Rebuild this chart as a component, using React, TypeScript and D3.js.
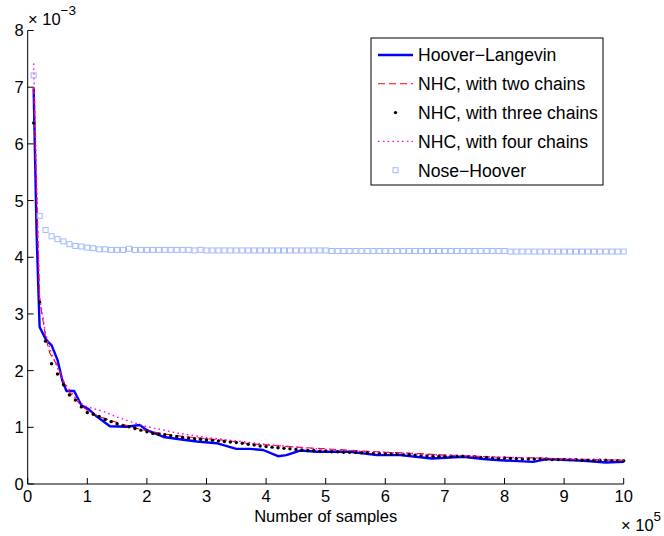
import React from 'react';
import * as d3 from 'd3';

// ---- data (y values in units of 1e-3, x in units of 1e5 samples) ----
const xTicks = [0, 1, 2, 3, 4, 5, 6, 7, 8, 9, 10];
const yTicks = [0, 1, 2, 3, 4, 5, 6, 7, 8];

// sampling grid used by the marker series: every 1e4 samples
const markerX = d3.range(1, 101).map(i => i / 10);

const hooverLangevinX = [0.1, 0.15, 0.18, 0.2, 0.3, 0.35, 0.4, 0.5, 0.58, 0.65, 0.78, 0.9, 1.02, 1.16, 1.38, 1.66, 1.88, 2.0, 2.28, 2.55, 2.84, 3.17, 3.5, 3.73, 3.95, 4.2, 4.34, 4.57, 4.85, 5.41, 5.86, 6.25, 6.78, 7.31, 7.64, 7.93, 8.48, 8.71, 9.33, 9.7, 10.0];
const hooverLangevinY = [6.98, 4.4, 3.4, 2.77, 2.56, 2.5, 2.45, 2.19, 1.83, 1.64, 1.64, 1.39, 1.32, 1.19, 1.02, 1.01, 1.04, 0.95, 0.83, 0.79, 0.75, 0.72, 0.62, 0.62, 0.6, 0.49, 0.51, 0.59, 0.57, 0.57, 0.51, 0.51, 0.45, 0.48, 0.44, 0.42, 0.39, 0.44, 0.41, 0.38, 0.39];

const twoChainsX = [0.1, 0.2, 0.3, 0.37, 0.51, 0.6, 0.7, 0.8, 0.9, 1.0, 1.2, 1.4, 1.6, 1.8, 2.0, 2.3, 2.6, 3.0, 3.4, 3.73, 4.0, 4.5, 5.0, 5.5, 6.0, 6.5, 7.0, 7.5, 8.0, 8.5, 9.0, 9.5, 10.0];
const twoChainsY = [7.0, 3.25, 2.6, 2.31, 2.07, 1.8, 1.62, 1.5, 1.38, 1.3, 1.19, 1.12, 1.05, 0.99, 0.94, 0.88, 0.84, 0.8, 0.76, 0.71, 0.69, 0.65, 0.62, 0.59, 0.56, 0.54, 0.51, 0.49, 0.47, 0.46, 0.44, 0.43, 0.42];

const threeChainsY = [
  6.37, 3.21, 2.52, 2.12, 1.94, 1.75, 1.57, 1.48, 1.36, 1.26,
  1.23, 1.19, 1.14, 1.1, 1.06, 1.03, 1.01, 0.98, 0.95, 0.92,
  0.89, 0.88, 0.87, 0.85, 0.84, 0.82, 0.81, 0.8, 0.79, 0.78,
  0.77, 0.76, 0.75, 0.74, 0.73, 0.72, 0.7, 0.69, 0.67, 0.66,
  0.65, 0.64, 0.63, 0.62, 0.61, 0.6, 0.59, 0.59, 0.58, 0.58,
  0.57, 0.57, 0.56, 0.56, 0.56, 0.55, 0.55, 0.54, 0.54, 0.53,
  0.53, 0.53, 0.52, 0.52, 0.51, 0.5, 0.5, 0.49, 0.49, 0.49,
  0.49, 0.49, 0.49, 0.48, 0.48, 0.47, 0.47, 0.46, 0.45, 0.46,
  0.45, 0.45, 0.44, 0.44, 0.44, 0.44, 0.44, 0.43, 0.43, 0.43,
  0.43, 0.43, 0.42, 0.42, 0.42, 0.42, 0.42, 0.41, 0.41, 0.41,
];

const fourChainsX = [0.1, 0.2, 0.3, 0.4, 0.5, 0.6, 0.7, 0.8, 0.9, 1.0, 1.27, 1.5, 1.73, 2.0, 2.29, 2.5, 3.0, 3.5, 4.0, 4.5, 5.0, 5.5, 6.0, 6.5, 7.0, 7.5, 8.0, 8.5, 9.0, 9.5, 10.0];
const fourChainsY = [7.42, 3.3, 2.65, 2.3, 2.05, 1.82, 1.66, 1.52, 1.42, 1.36, 1.28, 1.18, 1.1, 1.01, 0.95, 0.9, 0.82, 0.76, 0.7, 0.65, 0.61, 0.58, 0.56, 0.53, 0.51, 0.49, 0.47, 0.46, 0.44, 0.43, 0.42];

const noseHooverY = [
  7.21, 4.73, 4.48, 4.37, 4.32, 4.28, 4.23, 4.2, 4.19, 4.17,
  4.16, 4.14, 4.14, 4.13, 4.13, 4.13, 4.15, 4.13, 4.13, 4.13,
  4.13, 4.13, 4.13, 4.13, 4.13, 4.13, 4.13, 4.12, 4.13, 4.12,
  4.12, 4.12, 4.12, 4.12, 4.12, 4.12, 4.12, 4.12, 4.12, 4.12,
  4.12, 4.12, 4.12, 4.12, 4.12, 4.12, 4.12, 4.12, 4.12, 4.12,
  4.11, 4.11, 4.11, 4.11, 4.11, 4.11, 4.11, 4.11, 4.11, 4.11,
  4.11, 4.11, 4.11, 4.11, 4.11, 4.11, 4.11, 4.11, 4.11, 4.11,
  4.11, 4.11, 4.11, 4.11, 4.11, 4.11, 4.11, 4.11, 4.11, 4.11,
  4.1, 4.1, 4.1, 4.1, 4.1, 4.1, 4.1, 4.1, 4.1, 4.1,
  4.1, 4.1, 4.1, 4.1, 4.1, 4.1, 4.1, 4.1, 4.1, 4.1,
];

const legendLabels = ['Hoover\u2212Langevin', 'NHC, with two chains', 'NHC, with three chains', 'NHC, with four chains', 'Nose\u2212Hoover'];

const W = 664;
const H = 536;
const FONT = '"Liberation Sans", Arial, sans-serif';
const SQUARE = '#a3b8ff';
const DOTS = '1.6,3.2';

const App = () => {
  const x = d3.scaleLinear().domain([0, 10]).range([27.7, 623.7]);
  const y = d3.scaleLinear().domain([0, 8]).range([484, 30.5]);

  const line = d3.line<[number, number]>().x(d => x(d[0])).y(d => y(d[1]));
  const zip = (xs: number[], ys: number[]) => xs.map((v, i) => [v, ys[i]] as [number, number]);

  const legendX = 371;
  const legendY = 38;
  const rowH = 28.8;

  return (
    <svg width={W} height={H} style={{ position: 'absolute', left: 0, top: 0, background: '#fff' }} fontFamily={FONT}>
      <rect width={W} height={H} fill="#fff" />

      {/* series */}
      <path d={line(zip(hooverLangevinX, hooverLangevinY)) || ''} fill="none" stroke="#0000ff" strokeWidth={2.4} strokeLinejoin="round" />
      <path d={line(zip(twoChainsX, twoChainsY)) || ''} fill="none" stroke="#ff0000" strokeWidth={1.1} strokeDasharray="7,4" />
      <g fill="#000">
        {markerX.map((v, i) => (
          <circle key={i} cx={x(v)} cy={y(threeChainsY[i])} r={1.7} />
        ))}
      </g>
      <path d={line(zip(fourChainsX, fourChainsY)) || ''} fill="none" stroke="#ff00ff" strokeWidth={1.4} strokeDasharray={DOTS} />
      <g fill="none" stroke={SQUARE} strokeWidth={1}>
        {markerX.map((v, i) => (
          <rect key={i} x={x(v) - 2.5} y={y(noseHooverY[i]) - 2.5} width={5} height={5} />
        ))}
      </g>

      {/* axes */}
      <g stroke="#000" strokeWidth={1} fill="none">
        <line x1={x(0)} x2={x(0)} y1={y(8)} y2={y(0)} />
        <line x1={x(0)} x2={x(10)} y1={y(0)} y2={y(0)} />
        {yTicks.map(t => (
          <line key={'yt' + t} x1={x(0)} x2={x(0) + 6} y1={y(t)} y2={y(t)} />
        ))}
        {xTicks.map(t => (
          <line key={'xt' + t} x1={x(t)} x2={x(t)} y1={y(0)} y2={y(0) - 6} />
        ))}
      </g>
      <g fontSize={16.5} fill="#000">
        {yTicks.map(t => (
          <text key={'yl' + t} x={x(0) - 4} y={y(t)} dy="0.36em" textAnchor="end">{t}</text>
        ))}
        {xTicks.map(t => (
          <text key={'xl' + t} x={x(t)} y={y(0) + 18} textAnchor="middle">{t}</text>
        ))}
        <text x={x(5)} y={522} textAnchor="middle">Number of samples</text>
        <text x={28} y={25}>{'\u00d7 10'}<tspan fontSize={13.5} dy={-10}>{'\u22123'}</tspan></text>
        <text x={621} y={531}>{'\u00d7 10'}<tspan fontSize={13.5} dy={-10}>5</tspan></text>
      </g>

      {/* legend */}
      <g>
        <rect x={legendX} y={legendY} width={232} height={147} fill="#fff" stroke="#000" strokeWidth={1} />
        {legendLabels.map((label, i) => {
          const cy = legendY + 17 + i * rowH;
          const x1 = legendX + 7;
          const x2 = legendX + 42;
          const mid = (x1 + x2) / 2;
          return (
            <g key={label}>
              {i === 0 && <line x1={x1} x2={x2} y1={cy} y2={cy} stroke="#0000ff" strokeWidth={2.4} />}
              {i === 1 && <line x1={x1} x2={x2} y1={cy} y2={cy} stroke="#ff0000" strokeWidth={1.1} strokeDasharray="7,4" />}
              {i === 2 && <circle cx={mid} cy={cy} r={1.7} fill="#000" />}
              {i === 3 && <line x1={x1} x2={x2} y1={cy} y2={cy} stroke="#ff00ff" strokeWidth={1.4} strokeDasharray={DOTS} />}
              {i === 4 && <rect x={mid - 2.5} y={cy - 2.5} width={5} height={5} fill="none" stroke={SQUARE} />}
              <text x={legendX + 47} y={cy} dy="0.36em" fontSize={17.6} fill="#000">{label}</text>
            </g>
          );
        })}
      </g>
    </svg>
  );
};

export default App;
